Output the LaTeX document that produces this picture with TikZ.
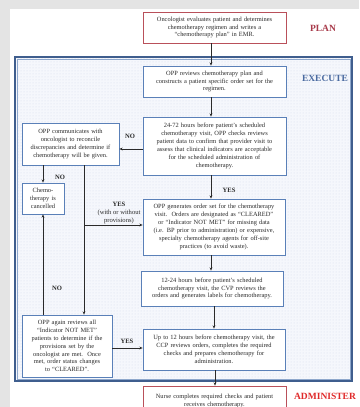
\documentclass[tikz,border=0pt]{standalone}
\usepackage{fontspec}
\setmainfont{Liberation Serif}
\usetikzlibrary{arrows.meta,patterns}
\definecolor{pagegray}{HTML}{E4E4E4}
\definecolor{boxblue}{HTML}{5A80B8}
\definecolor{boxred}{HTML}{B9505A}
\definecolor{frameblue}{HTML}{3F5E8E}
\definecolor{frameinner}{HTML}{8FA8CC}
\definecolor{framefill}{HTML}{F5F7FC}
\definecolor{dotcol}{HTML}{D3DDEE}
\definecolor{plancol}{HTML}{A83A4A}
\definecolor{execcol}{HTML}{4A6AA0}
\definecolor{admcol}{HTML}{E02A2A}
\definecolor{txt}{HTML}{2A2A2A}
\newcommand\boxfont{\fontsize{6.4}{7.9}\selectfont}
\newcommand\lblfont{\fontsize{6.6}{7.9}\selectfont}
\tikzset{
  flowbox/.style={draw=boxblue, line width=0.8pt, fill=white, align=center,
    inner sep=0pt, font=\boxfont, text=txt},
  redbox/.style={flowbox, draw=boxred},
  arr/.style={draw=txt, line width=0.6pt, -{Stealth[length=3.2pt,width=2.8pt]}},
  ln/.style={draw=txt, line width=0.6pt},
  lbl/.style={font=\lblfont\bfseries, text=txt, inner sep=0pt},
  lblsmall/.style={font=\lblfont, text=txt, inner sep=0pt},
  phase/.style={font=\fontsize{9.5}{11}\selectfont\bfseries, inner sep=0pt}
}
\begin{document}
\begin{tikzpicture}[x=1pt,y=-1pt]
\useasboundingbox (0,0) rectangle (359,407);
\fill[pagegray] (0,0) rectangle (359,407);
\fill[white] (10,9) rectangle (359,407);
% execute frame
\fill[framefill] (15,57) rectangle (352,381);
\fill[pattern=dots, pattern color=dotcol] (15,57) rectangle (352,381);
\draw[frameblue, line width=1.1pt] (15,57) rectangle (352,381);
\draw[frameinner, line width=0.5pt] (16.8,58.8) rectangle (350.2,379.2);

% nodes
\node[redbox, minimum width=143, minimum height=31, text width=139] (onc) at (214.5,27.5)
  {Oncologist evaluates patient and determines\\chemotherapy regimen and writes a\\“chemotherapy plan” in EMR.};
\node[flowbox, minimum width=143, minimum height=31, text width=139] (rev) at (214.5,81.5)
  {OPP reviews chemotherapy plan and\\constructs a patient specific order set for the\\regimen.};
\node[flowbox, minimum width=143, minimum height=58, text width=139] (chk) at (214.5,146)
  {24-72 hours before patient’s scheduled\\chemotherapy visit, OPP checks reviews\\patient data to confirm that provider visit to\\assess that clinical indicators are acceptable\\for the scheduled administration of\\chemotherapy.};
\node[flowbox, minimum width=97, minimum height=42, text width=93] (comm) at (70.5,144)
  {OPP communicates with\\oncologist to reconcile\\discrepancies and determine if\\chemotherapy will be given.};
\node[flowbox, minimum width=42, minimum height=31, text width=38] (canc) at (43,198.5)
  {Chemo-\\therapy is\\cancelled};
\node[flowbox, minimum width=142, minimum height=56, text width=138] (gen) at (214,227)
  {OPP generates order set for the chemotherapy\\visit.\ \ Orders are designated as “CLEARED”\\or “Indicator NOT MET” for missing data\\(i.e. BP prior to administration) or expensive,\\specialty chemotherapy agents for off-site\\practices (to avoid waste).};
\node[flowbox, minimum width=142, minimum height=35, text width=138] (lab) at (212,288.5)
  {12-24 hours before patient’s scheduled\\chemotherapy visit, the CVP reviews the\\orders and generates labels for chemotherapy.};
\node[flowbox, minimum width=142, minimum height=41, text width=138] (ccp) at (214,349.5)
  {Up to 12 hours before chemotherapy visit, the\\CCP reviews orders, completes the required\\checks and prepares chemotherapy for\\administration.};
\node[flowbox, minimum width=90, minimum height=62, text width=86] (again) at (67,346)
  {OPP again reviews all\\“Indicator NOT MET”\\patients to determine if the\\provisions set by the\\oncologist are met.\ \ Once\\met, order status changes\\to “CLEARED”.};
\node[redbox, minimum width=143, minimum height=30, text width=139] (nurse) at (214.5,401)
  {Nurse completes required checks and patient\\receives chemotherapy.\\[6pt]};

% phase labels
\node[phase, text=plancol] (plan) at (323,28) {PLAN};
\node[phase, text=execcol] (exec) at (325,78) {EXECUTE};
\node[phase, text=admcol] (adm) at (325,396) {ADMINISTER};

% helper coordinates
\coordinate (vx) at (84,0);
\coordinate (mx) at (211,0);

% connectors
\draw[arr] (onc.south -| mx) -- (rev.north -| mx);
\draw[arr] (rev.south -| mx) -- (chk.north -| mx);
\draw[arr] ([yshift=-3pt]chk.west) -- ([yshift=-3pt]chk.west -| comm.east);
\draw[arr] (comm.south -| canc.north) -- (canc.north);
\draw[arr] (comm.south -| vx) -- (again.north -| vx);
\draw[arr] ([yshift=2pt]gen.west -| vx) -- ([yshift=2pt]gen.west);
\draw[arr] (chk.south -| mx) -- (gen.north -| mx);
\draw[arr] (gen.south -| mx) -- (lab.north -| mx);
\draw[arr] ([xshift=2pt]lab.south) -- ([xshift=2pt]lab.south |- ccp.north);
\draw[arr] ([yshift=-2pt]again.east) -- ([yshift=-2pt]again.east -| ccp.west);
\draw[arr] (again.north -| canc.south) -- (canc.south);
\draw[arr] ([xshift=1pt]ccp.south) -- ([xshift=1pt]ccp.south |- nurse.north);

% connector labels
\node[lbl] (lno1) at (130,136) {NO};
\node[lbl] (lno2) at (60,177) {NO};
\node[lbl] (lno3) at (57,288) {NO};
\node[lbl] (lyes1) at (229,190) {YES};
\node[lbl] (lyes2) at (119,204) {YES};
\node[lblsmall, align=center] (lprov) at (119,216.5) {(with or without\\provisions)};
\node[lbl] (lyes3) at (127,341) {YES};
\end{tikzpicture}
\end{document}
